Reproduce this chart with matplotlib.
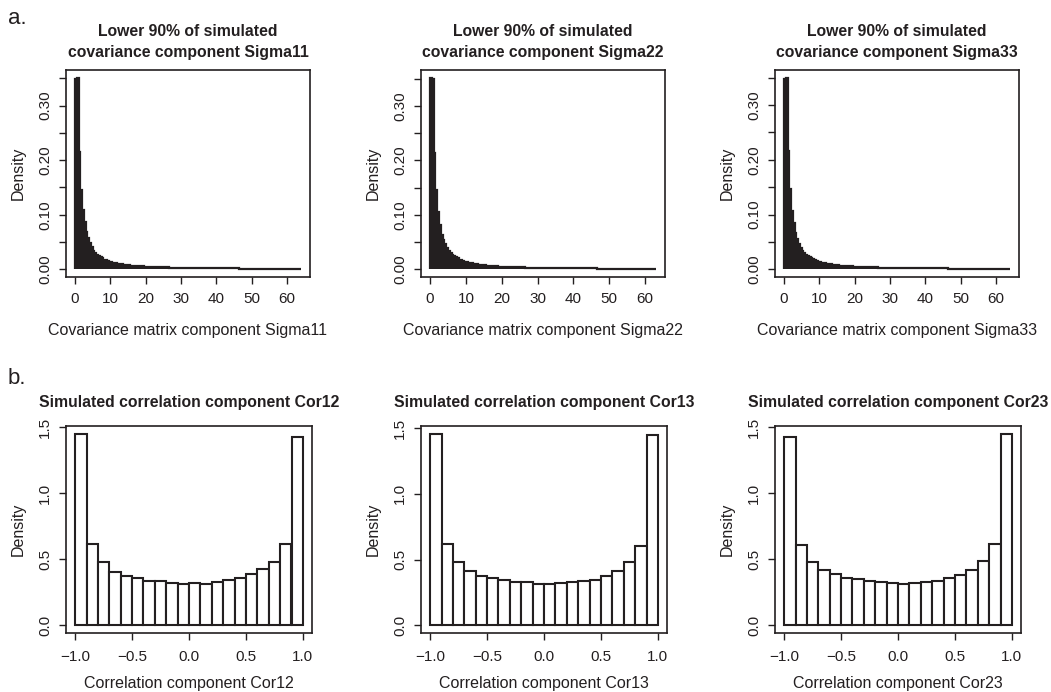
import numpy as np
import matplotlib
matplotlib.use('Agg')
import matplotlib.pyplot as plt

plt.rcParams['font.family'] = ['Liberation Sans', 'DejaVu Sans']
ink = '#231f20'

# Covariance components: density per bin, bins of width 0.5 starting at 0
sigma_bin = 0.5
sigma11_head = [0.348, 0.351, 0.215, 0.145, 0.109, 0.087, 0.069, 0.057, 0.048, 0.040, 0.034]
sigma22_head = [0.352, 0.350, 0.214, 0.145, 0.105, 0.081, 0.063, 0.054, 0.046, 0.039, 0.033]
sigma33_head = [0.347, 0.350, 0.216, 0.147, 0.107, 0.084, 0.066, 0.055, 0.047, 0.039, 0.034]
cov_tail = [
    0.030, 0.027, 0.024, 0.022, 0.020, 0.018, 0.0165, 0.0153, 0.0142,
    0.0132, 0.0123, 0.0115, 0.0108, 0.0101, 0.0095, 0.0090, 0.0085, 0.0080, 0.0076,
    0.0072, 0.0069, 0.0066, 0.0063, 0.0060, 0.0058, 0.0056, 0.0054, 0.0052, 0.0050,
    0.0048, 0.0047, 0.0045, 0.0044, 0.0043, 0.0041, 0.0040, 0.0039, 0.0038, 0.0037,
    0.0036, 0.0035, 0.0034, 0.0033, 0.0032, 0.0032, 0.0031, 0.0030, 0.0030, 0.0029,
    0.0028, 0.0028, 0.0027, 0.0027, 0.0026, 0.0026, 0.0025, 0.0025, 0.0024, 0.0024,
    0.0023, 0.0023, 0.0022, 0.0022, 0.0022, 0.0021, 0.0021, 0.0020, 0.0020, 0.0020,
    0.0019, 0.0019, 0.0019, 0.0018, 0.0018, 0.0018, 0.0017, 0.0017, 0.0017, 0.0016,
    0.0016, 0.0016, 0.0016, 0.0015, 0.0015, 0.0015, 0.0015, 0.0014, 0.0014, 0.0014,
    0.0014, 0.0014, 0.0013, 0.0013, 0.0013, 0.0013, 0.0013, 0.0012, 0.0012, 0.0012,
    0.0012, 0.0012, 0.0012, 0.0011, 0.0011, 0.0011, 0.0011, 0.0011, 0.0011, 0.0011,
    0.0010, 0.0010, 0.0010, 0.0010, 0.0010, 0.0010, 0.0010, 0.0010,
]
sigma11 = sigma11_head + cov_tail
sigma22 = sigma22_head + cov_tail[:-2]
sigma33 = sigma33_head + cov_tail

# Correlation components: 20 bins of width 0.1 on [-1, 1]
cor12 = [1.452, 0.614, 0.480, 0.404, 0.376, 0.361, 0.336, 0.336, 0.323, 0.310,
         0.323, 0.315, 0.328, 0.340, 0.355, 0.386, 0.424, 0.482, 0.616, 1.427]
cor13 = [1.457, 0.622, 0.482, 0.411, 0.378, 0.361, 0.343, 0.328, 0.330, 0.315,
         0.315, 0.323, 0.330, 0.338, 0.348, 0.376, 0.414, 0.482, 0.604, 1.449]
cor23 = [1.430, 0.612, 0.478, 0.418, 0.386, 0.362, 0.348, 0.338, 0.326, 0.318,
         0.312, 0.320, 0.328, 0.338, 0.356, 0.380, 0.418, 0.488, 0.618, 1.452]

sigma_names = ['Sigma11', 'Sigma22', 'Sigma33']
cor_names = ['Cor12', 'Cor13', 'Cor23']

W, H = 1051, 692
fig = plt.figure(figsize=(W / 100, H / 100), dpi=100)
lefts = [66, 421, 775]


def style(ax, xpad=6):
    for s in ax.spines.values():
        s.set_linewidth(1.2)
        s.set_color(ink)
    ax.tick_params(direction='out', length=5, width=1.0, colors=ink, labelsize=11)
    ax.tick_params(axis='x', pad=xpad)
    ax.tick_params(axis='y', pad=5, labelrotation=90)
    for lab in ax.get_yticklabels():
        lab.set_va('center')


# top row: covariance components (bars so narrow they merge into a solid area)
for left, dens, name in zip(lefts, [sigma11, sigma22, sigma33], sigma_names):
    ax = fig.add_axes([left / W, 1 - 277 / H, 244 / W, 207 / H])
    edges = np.arange(len(dens) + 1) * sigma_bin
    ax.stairs(dens, edges, fill=True, color=ink)
    ax.stairs(dens, edges, color=ink, linewidth=1.6, baseline=0)
    r = len(dens) * sigma_bin
    top = max(dens)
    ax.set_xlim(-0.04 * r, r * 1.04)
    ax.set_ylim(-0.04 * top, top * 1.04)
    ax.set_xticks(np.arange(0, 61, 10))
    yt = np.arange(0, 0.351, 0.05)
    ax.set_yticks(yt)
    ax.set_yticklabels(['%.2f' % v if i % 2 == 0 else '' for i, v in enumerate(yt)])
    style(ax)
    ax.set_title('Lower 90% of simulated\ncovariance component ' + name,
                 fontsize=11.3, fontweight='bold', color=ink, pad=9, linespacing=1.55)
    ax.set_xlabel('Covariance matrix component ' + name, fontsize=11.5, color=ink, labelpad=12)
    ax.set_ylabel('Density', fontsize=11.5, color=ink, labelpad=9)

# bottom row: correlation components
cor_edges = np.linspace(-1, 1, 21)
for left, dens, name in zip(lefts, [cor12, cor13, cor23], cor_names):
    ax = fig.add_axes([left / W, 1 - 633 / H, 246 / W, 207 / H])
    ax.bar(cor_edges[:-1], dens, width=0.1, align='edge', color='white', edgecolor=ink, linewidth=1.5)
    top = max(dens)
    ax.set_xlim(-1.08, 1.08)
    ax.set_ylim(-0.04 * top, top * 1.04)
    ax.set_xticks([-1.0, -0.5, 0.0, 0.5, 1.0])
    ax.set_xticklabels(['\u22121.0', '\u22120.5', '0.0', '0.5', '1.0'])
    ax.set_yticks([0.0, 0.5, 1.0, 1.5])
    ax.set_yticklabels(['0.0', '0.5', '1.0', '1.5'])
    style(ax, xpad=7)
    ax.set_title('Simulated correlation component ' + name,
                 fontsize=11.3, fontweight='bold', color=ink, pad=14)
    ax.set_xlabel('Correlation component ' + name, fontsize=11.5, color=ink, labelpad=9)
    ax.set_ylabel('Density', fontsize=11.5, color=ink, labelpad=9)

fig.text(8 / W, 1 - 18 / H, 'a.', fontsize=16, color=ink, va='center', ha='left')
fig.text(8 / W, 1 - 378 / H, 'b.', fontsize=16, color=ink, va='center', ha='left')

fig.savefig('out.png', dpi=100, facecolor='white')
